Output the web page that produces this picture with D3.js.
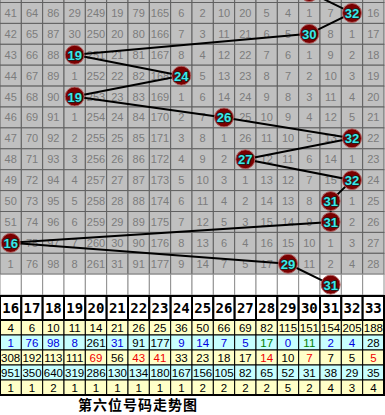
<!DOCTYPE html>
<html>
<head>
<meta charset="utf-8">
<script src="https://cdn.jsdelivr.net/npm/d3@7/dist/d3.min.js"></script>
<style>
body { margin: 0; background: #fff; }
svg { display: block; }
</style>
</head>
<body>
<svg width="385" height="415"></svg>
<script>
'use strict';

var cols = [16, 17, 18, 19, 20, 21, 22, 23, 24, 25, 26, 27, 28, 29, 30, 31, 32, 33];

// omission values shown in the grid, one row per draw (0 = drawn number)
var missRows = [
    [41, 64, 86, 29, 249, 19, 79, 165, 6, 2, 10, 20, 5, 4, 1, 7, 0, 16],
    [42, 65, 87, 30, 250, 20, 80, 166, 7, 3, 11, 21, 6, 5, 0, 8, 1, 17],
    [43, 66, 88, 0, 251, 21, 81, 167, 8, 4, 12, 22, 7, 6, 1, 9, 2, 18],
    [44, 67, 89, 1, 252, 22, 82, 168, 0, 5, 13, 23, 8, 7, 2, 10, 3, 19],
    [45, 68, 90, 0, 253, 23, 83, 169, 1, 6, 14, 24, 9, 8, 3, 11, 4, 20],
    [46, 69, 91, 1, 254, 24, 84, 170, 2, 7, 0, 25, 10, 9, 4, 12, 5, 21],
    [47, 70, 92, 2, 255, 25, 85, 171, 3, 8, 1, 26, 11, 10, 5, 13, 0, 22],
    [48, 71, 93, 3, 256, 26, 86, 172, 4, 9, 2, 0, 12, 11, 6, 14, 1, 23],
    [49, 72, 94, 4, 257, 27, 87, 173, 5, 10, 3, 1, 13, 12, 7, 15, 0, 24],
    [50, 73, 95, 5, 258, 28, 88, 174, 6, 11, 4, 2, 14, 13, 8, 0, 1, 25],
    [51, 74, 96, 6, 259, 29, 89, 175, 7, 12, 5, 3, 15, 14, 9, 0, 2, 26],
    [0, 75, 97, 7, 260, 30, 90, 176, 8, 13, 6, 4, 16, 15, 10, 1, 3, 27],
    [1, 76, 98, 8, 261, 31, 91, 177, 9, 14, 7, 5, 17, 0, 11, 2, 4, 28]
];

// drawn number per row, starting with the row cut off above the top edge
var winners = [30, 32, 30, 19, 24, 19, 26, 32, 27, 32, 31, 31, 16, 29, 31];

// statistics under the grid
var appearCount = [4, 6, 10, 11, 14, 21, 26, 25, 36, 50, 66, 69, 82, 115, 151, 154, 205, 188];
var curMiss = [1, 76, 98, 8, 261, 31, 91, 177, 9, 14, 7, 5, 17, 0, 11, 2, 4, 28];
var curMissTone = ['b', 'b', 'b', 'b', 'k', 'b', 'k', 'k', 'b', 'b', 'b', 'b', 'g', 'b', 'g', 'b', 'b', 'k'];
var avgMiss = [308, 192, 113, 111, 69, 56, 43, 41, 33, 23, 18, 17, 14, 10, 7, 7, 5, 5];
var avgMissTone = ['k', 'k', 'k', 'k', 'r', 'k', 'r', 'r', 'k', 'k', 'k', 'k', 'r', 'k', 'r', 'k', 'k', 'r'];
var maxMiss = [951, 350, 640, 319, 286, 130, 134, 180, 167, 156, 105, 82, 65, 52, 31, 38, 29, 35];
var maxStreak = [1, 1, 2, 1, 1, 1, 1, 1, 1, 2, 2, 2, 2, 5, 2, 4, 3, 4];

var title = '第六位号码走势图';

var toneColor = {k: '#000', b: '#0000e0', g: '#008000', r: '#f00000'};

var svg = d3.select('svg');

var x = d3.scaleBand().domain(cols).range([0, 384]);
// row index -> top of row
var y = d3.scaleLinear().domain([0, 14]).range([2.5, 295.1]);
var rowH = y(1) - y(0);

var grid = svg.append('g');

// gray rows (including the one cut off at the top) and the blank white row
var rowIdx = d3.range(-1, 14);
rowIdx.forEach(function(r) {
    grid.selectAll(null)
        .data(cols)
        .enter()
        .append('rect')
        .attr('x', function(c) { return x(c); })
        .attr('y', y(r))
        .attr('width', x.bandwidth())
        .attr('height', rowH)
        .attr('fill', r === 13 ? '#fff' : '#c0c0c0')
        .attr('stroke', r === 13 ? '#909090' : '#606060')
        .attr('stroke-width', 1);
});

// omission numbers
missRows.forEach(function(row, r) {
    grid.selectAll(null)
        .data(row.map(function(v, i) { return {v: v, c: cols[i]}; })
            .filter(function(d) { return d.c !== winners[r + 1]; }))
        .enter()
        .append('text')
        .attr('x', function(d) { return x(d.c) + x.bandwidth() / 2; })
        .attr('y', y(r) + rowH / 2 + 4)
        .attr('text-anchor', 'middle')
        .style('font', '11px "Liberation Sans", Arial, sans-serif')
        .attr('fill', '#7c7c7c')
        .text(function(d) { return d.v; });
});

var pts = winners.map(function(w, i) {
    return {x: x(w) + x.bandwidth() / 2, y: y(i - 1) + rowH / 2, v: w, cut: i === 0};
});

var line = d3.line()
    .x(function(d) { return d.x; })
    .y(function(d) { return d.y; });

svg.append('path')
    .attr('d', line(pts))
    .attr('fill', 'none')
    .attr('stroke', '#000')
    .attr('stroke-width', 2);

var balls = svg.selectAll('.ball')
    .data(pts)
    .enter()
    .append('g')
    .attr('class', 'ball')
    .attr('transform', function(d) { return 'translate(' + d.x + ',' + d.y + ')'; });

balls.append('circle')
    .attr('r', 9.5)
    .attr('fill', '#7a0000')
    .attr('stroke', '#b06060')
    .attr('stroke-width', 1);

// the ball above the top edge shows only its rim, so it gets no label
balls.filter(function(d) { return !d.cut; })
    .append('text')
    .attr('text-anchor', 'middle')
    .attr('y', 5)
    .style('font', 'bold 13px "Liberation Sans", Arial, sans-serif')
    .style('paint-order', 'stroke')
    .attr('stroke', '#102020')
    .attr('stroke-width', 1.6)
    .attr('fill', '#40e8e8')
    .text(function(d) { return d.v; });

// statistics table
var tableTop = 296, headH = 24, statH = 15;
var statRows = [
    {vals: appearCount, bg: '#ffffc8'},
    {vals: curMiss, bg: '#c8ffff', tone: curMissTone},
    {vals: avgMiss, bg: '#ffffc8', tone: avgMissTone},
    {vals: maxMiss, bg: '#c8ffff'},
    {vals: maxStreak, bg: '#ffffc8'}
];
var ys = d3.scaleBand().domain(d3.range(statRows.length))
    .range([tableTop + headH, tableTop + headH + statH * statRows.length]);

var table = svg.append('g');

table.selectAll('.head')
    .data(cols)
    .enter()
    .append('rect')
    .attr('class', 'head')
    .attr('x', function(c) { return x(c); })
    .attr('y', tableTop)
    .attr('width', x.bandwidth())
    .attr('height', headH)
    .attr('fill', '#fff')
    .attr('stroke', '#000')
    .attr('stroke-width', 2);

table.selectAll('.headText')
    .data(cols)
    .enter()
    .append('text')
    .attr('x', function(c) { return x(c) + x.bandwidth() / 2; })
    .attr('y', tableTop + headH / 2 + 5)
    .attr('text-anchor', 'middle')
    .style('font', 'bold 14px "DejaVu Sans Mono", monospace')
    .attr('fill', '#000')
    .text(function(c) { return c; });

statRows.forEach(function(row, r) {
    table.selectAll(null)
        .data(cols)
        .enter()
        .append('rect')
        .attr('x', function(c) { return x(c); })
        .attr('y', ys(r))
        .attr('width', x.bandwidth())
        .attr('height', statH)
        .attr('fill', row.bg)
        .attr('stroke', '#000')
        .attr('stroke-width', 1);

    table.selectAll(null)
        .data(row.vals)
        .enter()
        .append('text')
        .attr('x', function(v, i) { return x(cols[i]) + x.bandwidth() / 2; })
        .attr('y', ys(r) + statH / 2 + 4.5)
        .attr('text-anchor', 'middle')
        .style('font', '11.5px "Liberation Sans", Arial, sans-serif')
        .attr('fill', function(v, i) { return row.tone ? toneColor[row.tone[i]] : '#000'; })
        .text(function(v) { return v; });
});

// heavy outline round the statistics
table.append('rect')
    .attr('x', 0)
    .attr('y', ys(0))
    .attr('width', 384)
    .attr('height', statH * statRows.length)
    .attr('fill', 'none')
    .attr('stroke', '#000')
    .attr('stroke-width', 2);

svg.append('text')
    .attr('x', 138)
    .attr('y', 410)
    .attr('text-anchor', 'middle')
    .style('font', 'bold 14px "Noto Sans CJK SC", sans-serif')
    .attr('letter-spacing', 1)
    .attr('fill', '#000')
    .text(title);
</script>
</body>
</html>
